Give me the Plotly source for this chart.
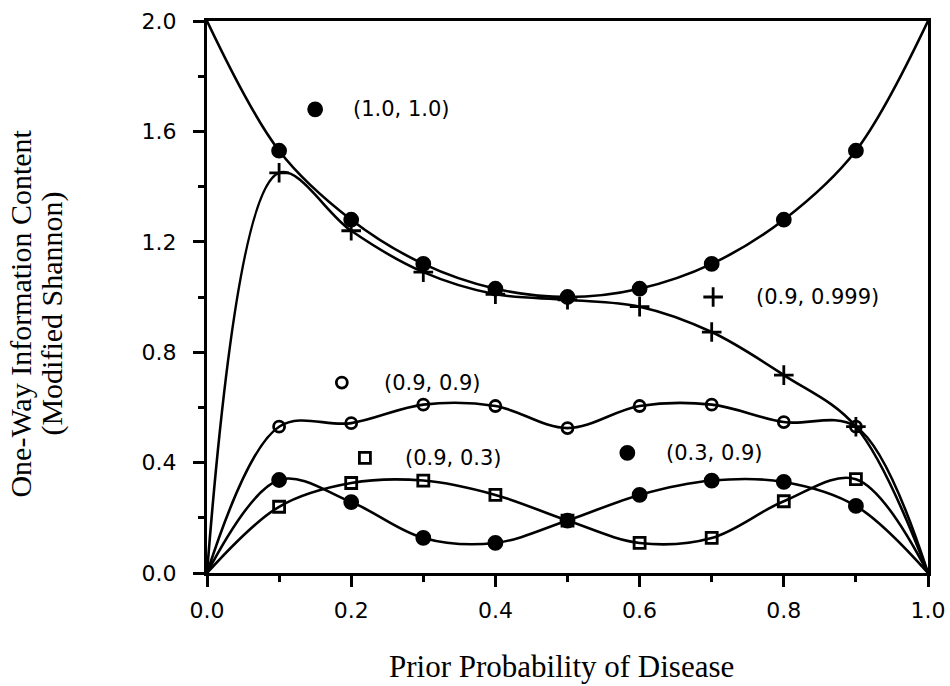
import plotly.graph_objects as go

# ---- data ----
x_curve = [0.0, 0.1, 0.2, 0.3, 0.4, 0.5, 0.6, 0.7, 0.8, 0.9, 1.0]
x_pts = [0.1, 0.2, 0.3, 0.4, 0.5, 0.6, 0.7, 0.8, 0.9]

s_10_10 = [2.0, 1.53, 1.28, 1.12, 1.03, 1.00, 1.03, 1.12, 1.28, 1.53, 2.0]
s_09_0999 = [0.0, 1.45, 1.24, 1.09, 1.01, 0.99, 0.965, 0.873, 0.717, 0.53, 0.0]
s_09_09 = [0.0, 0.53, 0.543, 0.61, 0.605, 0.525, 0.605, 0.61, 0.547, 0.53, 0.0]
s_09_03 = [0.0, 0.24, 0.326, 0.335, 0.283, 0.19, 0.109, 0.127, 0.26, 0.34, 0.0]
s_03_09 = [0.0, 0.337, 0.257, 0.127, 0.109, 0.19, 0.283, 0.335, 0.33, 0.243, 0.0]

labels = ["(1.0, 1.0)", "(0.9, 0.999)", "(0.9, 0.9)", "(0.9, 0.3)", "(0.3, 0.9)"]
key_x = [0.15, 0.702, 0.187, 0.219, 0.583]
key_y = [1.68, 1.00, 0.69, 0.417, 0.435]
label_x = [0.2, 0.758, 0.243, 0.272, 0.634]

x_ticks = [0.0, 0.2, 0.4, 0.6, 0.8, 1.0]
y_ticks = [0.0, 0.4, 0.8, 1.2, 1.6, 2.0]

series = [s_10_10, s_09_0999, s_09_09, s_09_03, s_03_09]
symbols = ["circle", "cross-thin", "circle-open", "square-open", "circle"]
sizes = [13, 14, 11, 11, 13]

fig = go.Figure()
LW = 2.6
for s in series:
    fig.add_trace(go.Scatter(x=x_curve, y=s, mode="lines",
                             line=dict(color="black", width=LW, shape="spline", smoothing=1.0),
                             hoverinfo="skip", showlegend=False))
for s, sym, sz in zip(series, symbols, sizes):
    fig.add_trace(go.Scatter(x=x_pts, y=s[1:-1], mode="markers",
                             marker=dict(symbol=sym, size=sz, color="black",
                                         line=dict(color="black", width=2.8)),
                             showlegend=False))
# key symbols
for kx, ky, sym, sz in zip(key_x, key_y, symbols, sizes):
    fig.add_trace(go.Scatter(x=[kx], y=[ky], mode="markers",
                             marker=dict(symbol=sym, size=sz, color="black",
                                         line=dict(color="black", width=2.8)),
                             showlegend=False))
for lx, ky, t in zip(label_x, key_y, labels):
    fig.add_annotation(x=lx, y=ky, text=t, showarrow=False, xanchor="left",
                       yanchor="middle", font=dict(family="DejaVu Sans", size=21, color="black"))

yt_font = dict(family="Liberation Serif", size=30, color="black")
fig.add_annotation(xref="paper", yref="paper", x=-0.258, y=0.47,
                   text="One-Way Information Content",
                   textangle=-90, showarrow=False, xanchor="center", yanchor="middle",
                   font=yt_font)
fig.add_annotation(xref="paper", yref="paper", x=-0.215, y=0.47,
                   text="(Modified Shannon)",
                   textangle=-90, showarrow=False, xanchor="center", yanchor="middle",
                   font=yt_font)
fig.add_annotation(xref="paper", yref="paper", x=0.491, y=-0.17,
                   text="Prior Probability of Disease", showarrow=False,
                   xanchor="center", yanchor="middle",
                   font=dict(family="Liberation Serif", size=31, color="black"))

axis_common = dict(showgrid=False, zeroline=False, showline=True, mirror=True,
                   automargin=False,
                   linecolor="black", linewidth=3, ticks="outside", tickcolor="black",
                   tickwidth=2.5, ticklen=11, tickformat=".1f",
                   tickfont=dict(family="DejaVu Sans", size=22, color="black"))
fig.update_xaxes(range=[0, 1], tickvals=x_ticks, ticklabelstandoff=5,
                 minor=dict(dtick=0.1, ticks="outside", ticklen=6, tickwidth=2.5, tickcolor="black"),
                 **axis_common)
fig.update_yaxes(range=[0, 2], tickvals=y_ticks, ticklabelstandoff=12,
                 minor=dict(dtick=0.2, ticks="outside", ticklen=6, tickwidth=2.5, tickcolor="black"),
                 **axis_common)
fig.update_layout(width=950, height=686, margin=dict(l=207, r=22, t=21, b=113),
                  paper_bgcolor="white", plot_bgcolor="white")
fig.write_html("out.html", config={"displayModeBar": False},
               post_script="document.body.style.margin='0px';document.body.style.overflow='hidden';")
